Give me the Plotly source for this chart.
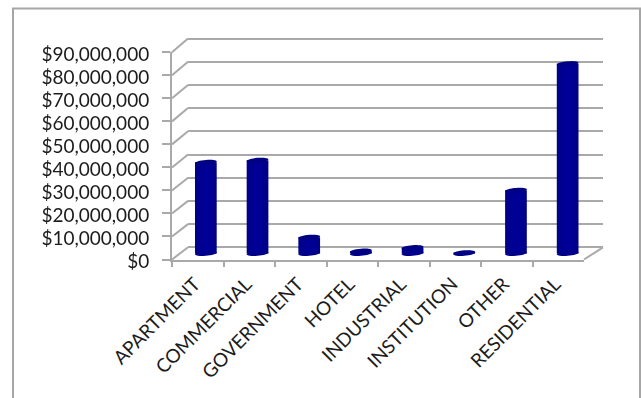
import math
import plotly.graph_objects as go

categories = ["APARTMENT", "COMMERCIAL", "GOVERNMENT", "HOTEL",
              "INDUSTRIAL", "INSTITUTION", "OTHER", "RESIDENTIAL"]
values = [39400000, 40300000, 7000000, 1000000,
          2500000, 300000, 27300000, 82100000]
y_ticks = [i * 10000000 for i in range(10)]
y_labels = ["$" + format(v, ",") for v in y_ticks]

W, H = 641, 398
GRID = "#a9a9a9"
TEXT = "#1c1c1c"
BAR = "#00008a"
FONT = "Lato"
Y_MAX = 90000000


def px(x):
    return x / W


def py(y):
    return 1 - y / H


# Depth planes of the pseudo-3D box (left, right, value-0 row, top row)
FRONT = (172, 584, 259.5, 52.3)
BACK = (188, 603, 247.3, 38.5)
MID = (180, 593.5, 253.4, 45.4)


def padded(plane, pad):
    """Axis range and y domain widened by pad dollars at both ends, so that
    end gridlines survive and shapes around zero are not clipped."""
    left, right, bottom, top = plane
    per_dollar = (bottom - top) / Y_MAX
    rng = [-pad, Y_MAX + pad]
    dom = [py(bottom + pad * per_dollar), py(top - pad * per_dollar)]
    return rng, dom


fig = go.Figure()

# Invisible traces that give the front and back axes their categories
fig.add_trace(go.Scatter(x=categories, y=values, mode="markers", opacity=0,
                         xaxis="x", yaxis="y", hoverinfo="skip", showlegend=False))
fig.add_trace(go.Scatter(x=categories, y=values, mode="markers", opacity=0,
                         xaxis="x2", yaxis="y2", hoverinfo="skip", showlegend=False))

# Columns in the middle plane, with narrower overlays for cylinder shading
for width, colour in ((0.42, BAR), (0.28, "#00008f"), (0.14, "#000096")):
    fig.add_trace(go.Bar(x=categories, y=values, width=width,
                         marker=dict(color=colour, line=dict(width=0)),
                         xaxis="x3", yaxis="y3", showlegend=False))


def ellipse_path(a=10.9, b=2.4, tilt=0.08, n=32):
    pts = []
    for k in range(n):
        t = 2 * math.pi * k / n
        ex, ey = a * math.cos(t), b * math.sin(t)
        pts.append((ex, ey + tilt * ex))
    return "M" + "L".join(f"{x:.2f},{y:.2f}" for x, y in pts) + "Z"


shapes = []
line_style = dict(color=GRID, width=2)

# Caps and bases of each column
for cat, val in zip(categories, values):
    for anchor, colour in ((0, BAR), (val, "#000082")):
        shapes.append(dict(type="path", xref="x3", yref="y3", xsizemode="pixel",
                           ysizemode="pixel", xanchor=cat, yanchor=anchor,
                           path=ellipse_path(), fillcolor=colour,
                           line=dict(width=0), layer="above"))

# Oblique lines joining the side wall's ticks to the back wall
steps = len(y_ticks) - 1
for i in range(len(y_ticks)):
    f = i / steps
    yf = FRONT[2] + (FRONT[3] - FRONT[2]) * f
    yb = BACK[2] + (BACK[3] - BACK[2]) * f
    shapes.append(dict(type="line", xref="paper", yref="paper", layer="below",
                       x0=px(FRONT[0]), x1=px(BACK[0]), y0=py(yf), y1=py(yb),
                       line=line_style))

# Right edge of the floor
shapes.append(dict(type="line", xref="paper", yref="paper", layer="below",
                   x0=px(FRONT[1]), x1=px(BACK[1]), y0=py(FRONT[2]), y1=py(BACK[2]),
                   line=line_style))

# Open-bottomed chart frame
shapes.append(dict(type="path", xref="paper", yref="paper", layer="below",
                   path=f"M{px(13)},{py(398)}L{px(13)},{py(8.5)}L{px(640)},{py(8.5)}L{px(640)},{py(398)}",
                   line=dict(color="#a6a6a6", width=2)))

y_range, yd = padded(FRONT, 0)
y_range2, yd2 = padded(BACK, 1000000)
y_range3, yd3 = padded(MID, 6000000)
xd = [px(FRONT[0]), px(FRONT[1])]
xd2 = [px(BACK[0]), px(BACK[1])]
xd3 = [px(MID[0]), px(MID[1])]
x_range = [-0.5, len(categories) - 0.5]
tick_font = dict(family=FONT, size=19, color=TEXT)

fig.update_layout(
    template="none",
    width=W, height=H, margin=dict(l=0, r=0, t=0, b=0),
    autosize=False,
    paper_bgcolor="white", plot_bgcolor="rgba(0,0,0,0)",
    barmode="overlay", showlegend=False, shapes=shapes,
    xaxis=dict(domain=xd, anchor="y", type="category", categoryorder="array",
               categoryarray=categories, range=x_range, tickson="boundaries",
               ticks="outside", ticklen=5, tickwidth=2, tickcolor=GRID,
               showline=True, linecolor=GRID, linewidth=2, showgrid=False,
               tickangle=-45, tickfont=dict(family=FONT, size=19, color=TEXT),
               ticklabelstandoff=4, ticklabelshift=-3,
               zeroline=False, automargin=False),
    yaxis=dict(domain=yd, anchor="x", range=y_range, tickvals=y_ticks, ticktext=y_labels,
               ticks="outside", ticklen=8, tickwidth=2, tickcolor=GRID,
               showline=True, linecolor=GRID, linewidth=2, showgrid=False,
               zeroline=False, tickfont=tick_font, ticklabelstandoff=9,
               ticklabelshift=2, automargin=False),
    xaxis2=dict(domain=xd2, anchor="y2", type="category", categoryorder="array",
                categoryarray=categories, range=x_range, showticklabels=False,
                ticks="", showgrid=False, zeroline=False, automargin=False),
    yaxis2=dict(domain=yd2, anchor="x2", range=y_range2, tickvals=y_ticks,
                showticklabels=False, ticks="", showgrid=True, gridcolor=GRID,
                gridwidth=2, zeroline=False, automargin=False),
    xaxis3=dict(domain=xd3, anchor="y3", type="category", categoryorder="array",
                categoryarray=categories, range=x_range, showticklabels=False,
                ticks="", showgrid=False, zeroline=False, automargin=False),
    yaxis3=dict(domain=yd3, anchor="x3", range=y_range3, showticklabels=False,
                ticks="", showgrid=False, zeroline=False, automargin=False),
)

fig.write_html("out.html", config=dict(displayModeBar=False))
